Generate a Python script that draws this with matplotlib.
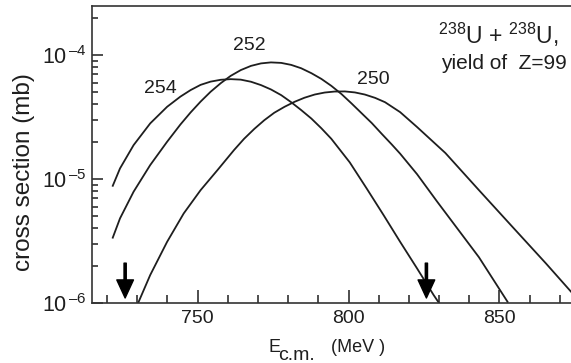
import matplotlib
matplotlib.use("Agg")
import matplotlib.pyplot as plt
from matplotlib.ticker import MultipleLocator, FixedLocator, LogLocator, NullFormatter, FuncFormatter
import numpy as np

plt.rcParams["font.family"] = ["Liberation Sans", "DejaVu Sans"]
plt.rcParams["mathtext.fontset"] = "custom"
plt.rcParams["mathtext.rm"] = "Liberation Sans"
plt.rcParams["mathtext.it"] = "Liberation Sans"
plt.rcParams["axes.unicode_minus"] = False

INK = "#1e1e1e"

# yield of Z=99 isotopes in 238U + 238U, cross section in mb
e_254 = [721.9, 724.3, 728.8, 734.3, 739.9, 744.3, 747.7, 751.0, 754.3, 757.7, 761.0, 764.3, 767.7, 771.0,
         774.3, 777.7, 781.0, 784.3, 787.7, 791.0, 794.3, 800.4, 806.0, 811.6, 817.1, 822.7, 828.2, 830.0]
s_254 = [8.83e-6, 1.219e-5, 1.879e-5, 2.812e-5, 3.828e-5, 4.624e-5, 5.224e-5, 5.754e-5, 6.109e-5, 6.324e-5,
         6.397e-5, 6.339e-5, 6.095e-5, 5.728e-5, 5.284e-5, 4.753e-5, 4.169e-5, 3.606e-5, 3.076e-5, 2.570e-5,
         2.113e-5, 1.365e-5, 8.41e-6, 5.13e-6, 3.12e-6, 1.905e-6, 1.161e-6, 1.0e-6]

e_252 = [721.9, 724.3, 728.8, 734.3, 739.9, 744.3, 747.7, 751.0, 754.3, 757.7, 761.0, 764.3, 767.7, 771.0,
         774.3, 777.7, 781.0, 784.3, 787.7, 791.0, 794.3, 797.7, 801.0, 804.3, 807.7, 811.0, 814.3, 817.1,
         822.7, 829.3, 843.2, 852.7]
s_252 = [3.37e-6, 4.82e-6, 7.91e-6, 1.297e-5, 2.0e-5, 2.754e-5, 3.451e-5, 4.217e-5, 5.058e-5, 5.943e-5,
         6.808e-5, 7.568e-5, 8.185e-5, 8.570e-5, 8.730e-5, 8.650e-5, 8.337e-5, 7.834e-5, 7.145e-5, 6.427e-5,
         5.649e-5, 4.842e-5, 4.074e-5, 3.404e-5, 2.831e-5, 2.317e-5, 1.905e-5, 1.603e-5, 1.096e-5, 6.61e-6,
         2.344e-6, 1.023e-6]

e_250 = [730.4, 734.3, 739.9, 745.4, 751.0, 756.6, 762.1, 765.4, 768.8, 772.1, 775.4, 778.8, 782.1, 785.4,
         788.8, 792.1, 795.4, 798.8, 802.1, 805.4, 808.8, 812.1, 817.1, 822.7, 832.1, 843.2, 854.3, 865.4, 874.7]
s_250 = [1.014e-6, 1.683e-6, 3.119e-6, 5.284e-6, 8.147e-6, 1.183e-5, 1.718e-5, 2.113e-5, 2.541e-5, 2.985e-5,
         3.428e-5, 3.828e-5, 4.198e-5, 4.529e-5, 4.808e-5, 4.989e-5, 5.082e-5, 5.093e-5, 5.0e-5, 4.808e-5,
         4.519e-5, 4.169e-5, 3.467e-5, 2.63e-5, 1.622e-5, 8.147e-6, 4.121e-6, 2.089e-6, 1.161e-6]

# curve labels: (text, energy, cross section)
labels = [("254", 737.8, 5.38e-5), ("252", 767.0, 1.2e-4), ("250", 808.1, 6.33e-5)]

# energy window marked by arrows
arrow_e = [726.0, 825.8]

fig = plt.figure(figsize=(5.71, 3.63), dpi=100)
ax = fig.add_axes([0.161, 0.165, 0.839, 0.818])

for e, s in [(e_254, s_254), (e_252, s_252), (e_250, s_250)]:
    ax.plot(e, s, color=INK, lw=1.3, solid_joinstyle="round")

ax.set_yscale("log")
ax.set_xlim(715, 873.7)
ax.set_ylim(1e-6, 2.48e-4)

for txt, x, y in labels:
    ax.text(x, y, txt, fontsize=14, ha="center", va="center", color=INK)

for x in arrow_e:
    ax.annotate("", xy=(x, 1.1e-6), xytext=(x, 2.1e-6),
                arrowprops=dict(facecolor="black", edgecolor="black",
                                width=1.6, headwidth=12, headlength=13))

ax.text(0.973, 0.872, r"$^{238}$U + $^{238}$U,", transform=ax.transAxes,
        ha="right", va="baseline", fontsize=16.5, color=INK)
ax.text(0.992, 0.790, "yield of  Z=99", transform=ax.transAxes,
        ha="right", va="baseline", fontsize=15, color=INK)

ax.xaxis.set_major_locator(MultipleLocator(50))
ax.xaxis.set_minor_locator(MultipleLocator(10))
ax.yaxis.set_major_locator(FixedLocator([1e-6, 1e-5, 1e-4]))
ax.yaxis.set_minor_locator(LogLocator(base=10, subs=range(2, 10)))
ax.yaxis.set_minor_formatter(NullFormatter())
ax.yaxis.set_major_formatter(FuncFormatter(
    lambda v, pos: "$\\mathdefault{10^{\\,\u2013%d}}$" % round(-np.log10(v))))

ax.tick_params(which="both", direction="in", top=False, right=False,
               width=1.1, colors=INK)
ax.tick_params(axis="x", which="major", length=9.5, pad=5, labelsize=14)
ax.tick_params(axis="x", which="minor", length=6)
ax.tick_params(axis="y", which="major", length=8, pad=4, labelsize=15.5)
ax.tick_params(axis="y", which="minor", length=4.5)

for side in ["left", "bottom", "top"]:
    ax.spines[side].set_linewidth(1.2)
    ax.spines[side].set_color("#333333")
ax.spines["right"].set_visible(False)

ax.set_ylabel("cross section (mb)", fontsize=17.5, color=INK)
ax.yaxis.set_label_coords(-0.119, 0.44)

# axis title with a full-size subscript
W, H = 571.0, 363.0
fig.text(268 / W, 1 - 352 / H, "E", fontsize=13, color=INK, va="baseline")
fig.text(278.5 / W, 1 - 360 / H, "c.m.", fontsize=14, color=INK, va="baseline")
fig.text(331 / W, 1 - 352 / H, "(MeV )", fontsize=13, color=INK, va="baseline")

fig.savefig("out.png", dpi=100)
